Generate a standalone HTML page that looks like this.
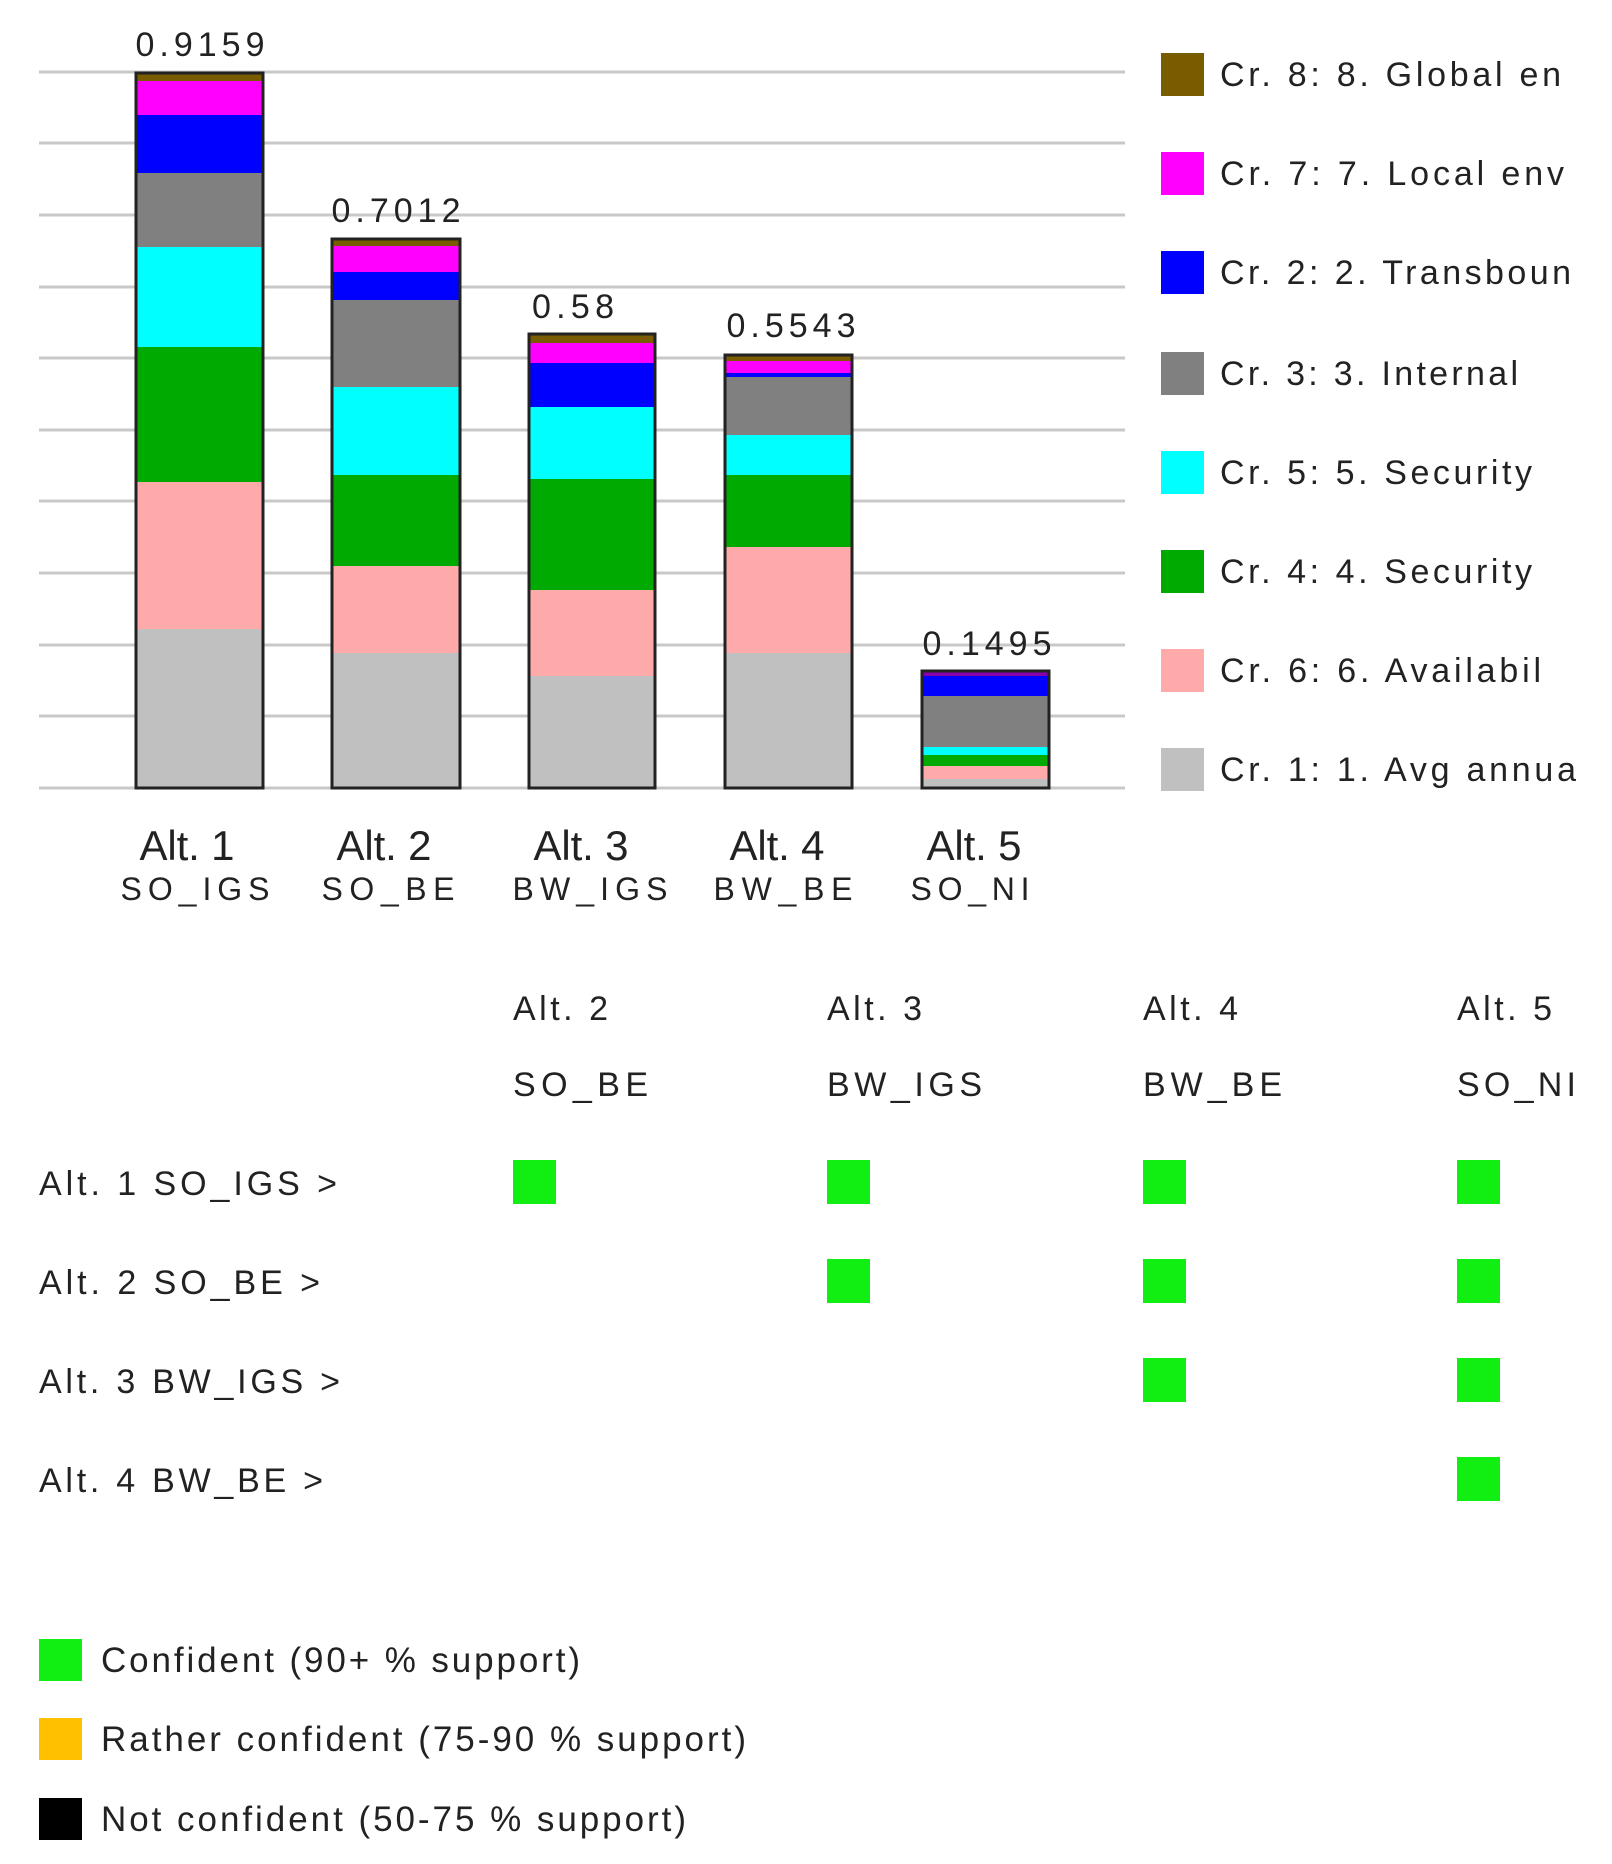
<!DOCTYPE html>
<html><head><meta charset="utf-8"><style>
html,body{margin:0;padding:0;background:#fff;}
svg{display:block;}
text{font-family:"Liberation Sans",Arial,sans-serif;fill:#222;}
</style></head><body>
<svg width="1612" height="1864" viewBox="0 0 1612 1864" xmlns="http://www.w3.org/2000/svg">
<g stroke="#c8c8c8" stroke-width="3">
<line x1="39" x2="1125" y1="72" y2="72"/><line x1="39" x2="1125" y1="143" y2="143"/>
<line x1="39" x2="1125" y1="215" y2="215"/><line x1="39" x2="1125" y1="287" y2="287"/>
<line x1="39" x2="1125" y1="358" y2="358"/><line x1="39" x2="1125" y1="430" y2="430"/>
<line x1="39" x2="1125" y1="501" y2="501"/><line x1="39" x2="1125" y1="573" y2="573"/>
<line x1="39" x2="1125" y1="645" y2="645"/><line x1="39" x2="1125" y1="716" y2="716"/>
<line x1="39" x2="1125" y1="788" y2="788"/>
</g>
<g>
<rect x="136" y="73" width="127" height="8" fill="#7a5c00"/>
<rect x="136" y="81" width="127" height="34" fill="#ff00ff"/>
<rect x="136" y="115" width="127" height="58" fill="#0000ff"/>
<rect x="136" y="173" width="127" height="74" fill="#808080"/>
<rect x="136" y="247" width="127" height="100" fill="#00ffff"/>
<rect x="136" y="347" width="127" height="135" fill="#00aa00"/>
<rect x="136" y="482" width="127" height="147" fill="#ffaaaa"/>
<rect x="136" y="629" width="127" height="159" fill="#c0c0c0"/>
<rect x="136" y="73" width="127" height="715" fill="none" stroke="#222" stroke-width="3"/>
</g>
<g>
<rect x="332" y="239" width="128" height="7" fill="#7a5c00"/>
<rect x="332" y="246" width="128" height="26" fill="#ff00ff"/>
<rect x="332" y="272" width="128" height="28" fill="#0000ff"/>
<rect x="332" y="300" width="128" height="87" fill="#808080"/>
<rect x="332" y="387" width="128" height="88" fill="#00ffff"/>
<rect x="332" y="475" width="128" height="91" fill="#00aa00"/>
<rect x="332" y="566" width="128" height="87" fill="#ffaaaa"/>
<rect x="332" y="653" width="128" height="135" fill="#c0c0c0"/>
<rect x="332" y="239" width="128" height="549" fill="none" stroke="#222" stroke-width="3"/>
</g>
<g>
<rect x="529" y="334" width="126" height="9" fill="#7a5c00"/>
<rect x="529" y="343" width="126" height="20" fill="#ff00ff"/>
<rect x="529" y="363" width="126" height="44" fill="#0000ff"/>
<rect x="529" y="407" width="126" height="72" fill="#00ffff"/>
<rect x="529" y="479" width="126" height="111" fill="#00aa00"/>
<rect x="529" y="590" width="126" height="86" fill="#ffaaaa"/>
<rect x="529" y="676" width="126" height="112" fill="#c0c0c0"/>
<rect x="529" y="334" width="126" height="454" fill="none" stroke="#222" stroke-width="3"/>
</g>
<g>
<rect x="725" y="355" width="127" height="6" fill="#7a5c00"/>
<rect x="725" y="361" width="127" height="12" fill="#ff00ff"/>
<rect x="725" y="373" width="127" height="4" fill="#0000ff"/>
<rect x="725" y="377" width="127" height="58" fill="#808080"/>
<rect x="725" y="435" width="127" height="40" fill="#00ffff"/>
<rect x="725" y="475" width="127" height="72" fill="#00aa00"/>
<rect x="725" y="547" width="127" height="106" fill="#ffaaaa"/>
<rect x="725" y="653" width="127" height="135" fill="#c0c0c0"/>
<rect x="725" y="355" width="127" height="433" fill="none" stroke="#222" stroke-width="3"/>
</g>
<g>
<rect x="922" y="671" width="127" height="5" fill="#8800aa"/>
<rect x="922" y="676" width="127" height="20" fill="#0000ff"/>
<rect x="922" y="696" width="127" height="51" fill="#808080"/>
<rect x="922" y="747" width="127" height="8" fill="#00ffff"/>
<rect x="922" y="755" width="127" height="11" fill="#00aa00"/>
<rect x="922" y="766" width="127" height="13" fill="#ffaaaa"/>
<rect x="922" y="779" width="127" height="9" fill="#c0c0c0"/>
<rect x="922" y="671" width="127" height="117" fill="none" stroke="#222" stroke-width="3"/>
</g>
<g font-size="34" text-anchor="middle">
<text x="200" y="56" textLength="129">0.9159</text>
<text x="396" y="222" textLength="129">0.7012</text>
<text x="573" y="318" textLength="82">0.58</text>
<text x="791" y="337" textLength="129">0.5543</text>
<text x="987" y="655" textLength="129">0.1495</text>
</g>
<g font-size="42" text-anchor="middle">
<text x="187" y="860" textLength="95">Alt. 1</text>
<text x="384" y="860" textLength="95">Alt. 2</text>
<text x="581" y="860" textLength="95">Alt. 3</text>
<text x="777" y="860" textLength="95">Alt. 4</text>
<text x="974" y="860" textLength="95">Alt. 5</text>
</g>
<g font-size="32" text-anchor="middle">
<text x="195" y="900" textLength="149">SO_IGS</text>
<text x="388" y="900" textLength="133">SO_BE</text>
<text x="590" y="900" textLength="155">BW_IGS</text>
<text x="783" y="900" textLength="139">BW_BE</text>
<text x="970" y="900" textLength="119">SO_NI</text>
</g>
<g>
<rect x="1161" y="53" width="43" height="43" fill="#7a5c00"/>
<rect x="1161" y="152" width="43" height="43" fill="#ff00ff"/>
<rect x="1161" y="251" width="43" height="43" fill="#0000ff"/>
<rect x="1161" y="352" width="43" height="43" fill="#808080"/>
<rect x="1161" y="451" width="43" height="43" fill="#00ffff"/>
<rect x="1161" y="550" width="43" height="43" fill="#00aa00"/>
<rect x="1161" y="649" width="43" height="43" fill="#ffaaaa"/>
<rect x="1161" y="748" width="43" height="43" fill="#c0c0c0"/>
</g>
<g font-size="34">
<text x="1220" y="86" textLength="341">Cr. 8: 8. Global en</text>
<text x="1220" y="185" textLength="344">Cr. 7: 7. Local env</text>
<text x="1220" y="284" textLength="351">Cr. 2: 2. Transboun</text>
<text x="1220" y="385" textLength="298">Cr. 3: 3. Internal</text>
<text x="1220" y="484" textLength="312">Cr. 5: 5. Security</text>
<text x="1220" y="583" textLength="312">Cr. 4: 4. Security</text>
<text x="1220" y="682" textLength="321">Cr. 6: 6. Availabil</text>
<text x="1220" y="781" textLength="356">Cr. 1: 1. Avg annua</text>
</g>
<g font-size="34">
<text x="513" y="1020" textLength="95">Alt. 2</text>
<text x="827" y="1020" textLength="95">Alt. 3</text>
<text x="1143" y="1020" textLength="95">Alt. 4</text>
<text x="1457" y="1020" textLength="95">Alt. 5</text>
<text x="513" y="1096" textLength="135">SO_BE</text>
<text x="827" y="1096" textLength="155">BW_IGS</text>
<text x="1143" y="1096" textLength="139">BW_BE</text>
<text x="1457" y="1096" textLength="119">SO_NI</text>
<text x="39" y="1195" textLength="298">Alt. 1 SO_IGS &gt;</text>
<text x="39" y="1294" textLength="281">Alt. 2 SO_BE &gt;</text>
<text x="39" y="1393" textLength="301">Alt. 3 BW_IGS &gt;</text>
<text x="39" y="1492" textLength="284">Alt. 4 BW_BE &gt;</text>
</g>
<g fill="#11ee11">
<rect x="513" y="1160" width="43" height="44"/><rect x="827" y="1160" width="43" height="44"/>
<rect x="1143" y="1160" width="43" height="44"/><rect x="1457" y="1160" width="43" height="44"/>
<rect x="827" y="1259" width="43" height="44"/><rect x="1143" y="1259" width="43" height="44"/>
<rect x="1457" y="1259" width="43" height="44"/>
<rect x="1143" y="1358" width="43" height="44"/><rect x="1457" y="1358" width="43" height="44"/>
<rect x="1457" y="1457" width="43" height="44"/>
</g>
<rect x="39" y="1639" width="43" height="42" fill="#11ee11"/>
<rect x="39" y="1718" width="43" height="42" fill="#ffc000"/>
<rect x="39" y="1798" width="43" height="42" fill="#000"/>
<g font-size="35">
<text x="101" y="1672" textLength="479">Confident (90+ % support)</text>
<text x="101" y="1751" textLength="645">Rather confident (75-90 % support)</text>
<text x="101" y="1831" textLength="585">Not confident (50-75 % support)</text>
</g>
</svg>
</body></html>
